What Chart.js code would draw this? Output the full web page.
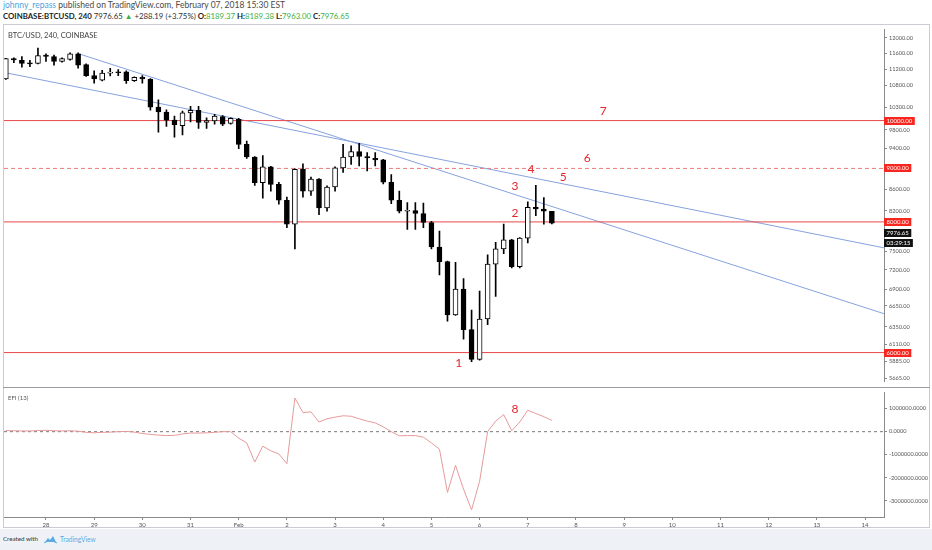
<!DOCTYPE html>
<html>
<head>
<meta charset="utf-8">
<script src="https://cdn.jsdelivr.net/npm/chart.js@4.4.0/dist/chart.umd.min.js"></script>
<style>
  html, body { margin: 0; padding: 0; background: #fff; }
  body { width: 932px; height: 550px; position: relative; overflow: hidden; font-family: Lato, "Open Sans", sans-serif; }
  #hdr1 { position: absolute; left: 3px; top: 0px; font-size: 8.5px; color: #4a4a4a; white-space: nowrap; }
  #hdr1 .user { color: #4fa3e0; }
  #hdr2 { position: absolute; left: 3px; top: 11px; font-size: 7.8px; color: #333; white-space: nowrap; }
  #hdr2 b { color: #222; }
  #hdr2 .g { color: #3cb043; }
  #frame { position: absolute; left: 3px; top: 24px; width: 927px; height: 504px; border: 1px solid #c9ccd2; box-sizing: border-box; }
  #sep { position: absolute; left: 3px; top: 387px; width: 927px; height: 0; border-top: 1px solid #9a9ca2; }
  #cA { position: absolute; left: 4px; top: 24px; }
  #cB { position: absolute; left: 4px; top: 387px; }
  #titleA { position: absolute; left: 8px; top: 31px; font-size: 7.5px; color: #444; }
  #titleB { position: absolute; left: 8px; top: 394px; font-size: 6px; color: #555; }
  #foot { position: absolute; left: 0; top: 529px; width: 932px; height: 21px; background: #eef2f7; }
  #foot .t1 { position: absolute; left: 3px; top: 6px; font-size: 6.2px; color: #333; }
  #foot .t2 { position: absolute; left: 60px; top: 6px; font-size: 6.6px; color: #5aaae4; }
  #foot svg { position: absolute; left: 44px; top: 5px; }
</style>
</head>
<body>
<div id="hdr1"><span class="user">johnny_repass</span> published on TradingView.com, February 07, 2018 15:30 EST</div>
<div id="hdr2"><b>COINBASE:BTCUSD, 240</b> 7976.65 <span class="g">▲</span> +288.19 (+3.75%) <b>O:</b><span class="g">8189.37</span> <b>H:</b><span class="g">8189.38</span> <b>L:</b><span class="g">7963.00</span> <b>C:</b><span class="g">7976.65</span></div>
<div id="frame"></div>
<canvas id="cA" width="925" height="363"></canvas>
<canvas id="cB" width="925" height="143"></canvas>
<div id="sep"></div>
<div id="titleA">BTC/USD, 240, COINBASE</div>
<div id="titleB">EFI (13)</div>
<div id="foot">
  <span class="t1">Created with</span>
  <svg width="13" height="10" viewBox="0 0 13 10"><path d="M1 8 L4 4 L6 6 L9 2 L12 8 Z" fill="#5aaae4"/><path d="M0 9 Q6 5 13 9" stroke="#5aaae4" fill="none"/></svg>
  <span class="t2">TradingView</span>
</div>
<script>
// 4h bars, index 0 = Jan 27 00:00
const dayLabels = ['28', '29', '30', '31', 'Feb', '2', '3', '4', '5', '6', '7', '8', '9', '10', '11', '12', '13', '14'];
const dayTicks = [6, 12, 18, 24, 30, 36, 42, 48, 54, 60, 66, 72, 78, 84, 90, 96, 102, 108];
const firstBar = 1;

const opens = [10960, 11460, 11420, 11350, 11340, 11550, 11510, 11390, 11440, 11580,
  11310, 11040, 10930, 11100, 11120, 11130, 10920, 11000, 10950, 10300,
  10190, 10010, 9890, 10170, 10230, 9960, 9990, 10090, 9935, 10030,
  9490, 9230, 8720, 9030, 8690, 8390, 7960, 8980, 8560, 8790,
  8250, 8640, 9010, 9230, 9340, 9240, 9200, 9170, 8730, 8390,
  8190, 8200, 8150, 7990, 7570, 7330, 6520, 6900, 6310, 5910,
  6460, 7290, 7540, 7690, 7250, 7720, 8260, 8230, 8189.37];
const highs = [11470, 11480, 11510, 11420, 11730, 11580, 11550, 11480, 11610, 11610,
  11330, 11160, 11170, 11220, 11190, 11160, 11010, 11040, 10970, 10470,
  10240, 10100, 10210, 10320, 10320, 10060, 10140, 10110, 10060, 10050,
  9560, 9240, 9260, 9040, 8730, 8450, 8990, 9090, 8830, 8800,
  8660, 9030, 9490, 9460, 9510, 9320, 9320, 9180, 8880, 8560,
  8350, 8350, 8340, 8010, 7840, 7340, 7320, 7060, 6590, 6870,
  7440, 7650, 7960, 7700, 7730, 8360, 8670, 8440, 8189.38];
const lows = [10950, 11360, 11250, 11260, 11330, 11390, 11300, 11370, 11420, 11220,
  11020, 10860, 10910, 11030, 11040, 10850, 10900, 10860, 10230, 9750,
  9870, 9640, 9690, 9970, 9830, 9830, 9920, 9890, 9920, 9400,
  9200, 8670, 8430, 8560, 8320, 7900, 7540, 8450, 8480, 8130,
  8190, 8560, 8920, 9080, 9050, 8950, 9050, 8700, 8330, 8160,
  7870, 7870, 7900, 7540, 7120, 6430, 6510, 6180, 5880, 5900,
  6380, 6790, 7460, 7230, 7230, 7640, 8110, 7960, 7963.00];
const closes = [11460, 11430, 11340, 11330, 11540, 11520, 11390, 11460, 11580, 11300,
  11040, 10960, 11100, 11120, 11110, 10920, 11000, 10960, 10300, 10190,
  10010, 9910, 10170, 10230, 9960, 10000, 10100, 9920, 10050, 9490,
  9230, 8720, 9030, 8690, 8390, 7960, 8980, 8560, 8790, 8250,
  8640, 9010, 9230, 9340, 9240, 9210, 9170, 8730, 8390, 8190,
  8200, 8150, 7990, 7570, 7330, 6520, 6900, 6310, 5910, 6460,
  7290, 7540, 7690, 7250, 7720, 8260, 8230, 8190, 7976.65];

const efi = [50000, 40000, 30000, 30000, 50000, 60000, 40000, 30000, 40000, 20000,
  -30000, -50000, -30000, -20000, 0, 10000, -20000, -80000, -120000, -150000,
  -170000, -160000, -100000, -60000, -60000, -50000, -30000, 0, 0, -280000,
  -490000, -1320000, -630000, -830000, -970000, -1390000, 1460000, 830000, 860000, 420000,
  560000, 630000, 690000, 670000, 560000, 460000, 380000, 210000, 0, -180000,
  -170000, -170000, -240000, -490000, -760000, -2640000, -1460000, -2500000, -3400000, -2150000,
  0, 460000, 740000, 40000, 420000, 930000, 790000, 650000, 490000];

const priceTicks = [12000, 11600, 11200, 10800, 10300, 9800, 9400, 8600, 8200, 7500, 7200, 6900, 6650, 6350, 6110, 5885, 5665];
const efiTicks = [1000000, 0, -1000000, -2000000, -3000000];

const levels = [10000, 9000, 8000, 6000];
const levelDashed = [false, true, false, false];
const lastPrice = 7976.65;
const countdown = '03:29:15';

const trendUpper = [{x: 10.0, y: 11590}, {x: 110.36, y: 6536}];
const trendLower = [{x: 0.772, y: 11118}, {x: 110.36, y: 7556}];

const noteText = ['1', '2', '3', '4', '5', '6', '7'];
const noteX = [57.4, 64.4, 64.4, 66.4, 70.4, 73.4, 75.4];
const noteY = [5861, 8163, 8648, 8987, 8835, 9200, 10216];
const efiNoteText = ['8'];
const efiNoteX = [64.4];
const efiNoteY = [960000];

const xMin = 0.772, xMax = 110.36;
const AXIS_W = 45;
const RED = '#e8484a';
const BOX_RED = '#f7261e';
const NOTE_RED = '#e3262b';
const TXT = '#555';
const FONT = 'Lato, "Open Sans", sans-serif';

Chart.defaults.animation = false;
Chart.defaults.font.family = FONT;

const bars = opens.map((o, k) => firstBar + k);

const bodyData = bars.map((x, k) => ({x: x, y: [opens[k], closes[k]]}));
const wickData = bars.map((x, k) => ({x: x, y: [lows[k], highs[k]]}));
const isUp = k => closes[k] >= opens[k];

const levelSets = levels.map((lv, k) => ({
  type: 'line',
  data: [{x: xMin, y: lv}, {x: xMax, y: lv}],
  borderColor: levelDashed[k] ? '#ee7b7b' : RED,
  borderWidth: 1,
  borderDash: levelDashed[k] ? [4, 3] : [],
  pointRadius: 0,
  order: 3
}));

const notesPlugin = {
  id: 'notes',
  afterDatasetsDraw(chart, args, opts) {
    const {ctx, scales} = chart;
    ctx.save();
    ctx.fillStyle = NOTE_RED;
    ctx.font = '12px ' + FONT;
    ctx.textAlign = 'center';
    ctx.textBaseline = 'middle';
    opts.text.forEach((t, k) => {
      ctx.fillText(t, scales.x.getPixelForValue(opts.xs[k]), scales.y.getPixelForValue(opts.ys[k]));
    });
    ctx.restore();
  }
};

function axisBox(ctx, x, y, text, bg) {
  ctx.font = '6px ' + FONT;
  const w = ctx.measureText(text).width + 5;
  ctx.fillStyle = bg;
  ctx.fillRect(x, Math.round(y) - 4, w, 8);
  ctx.fillStyle = '#fff';
  ctx.textBaseline = 'middle';
  ctx.textAlign = 'left';
  ctx.fillText(text, x + 2.5, Math.round(y));
}

const boxesPlugin = {
  id: 'boxes',
  afterDraw(chart) {
    const {ctx, scales, chartArea} = chart;
    ctx.save();
    levels.forEach(lv => axisBox(ctx, chartArea.right, scales.y.getPixelForValue(lv), lv.toFixed(2), BOX_RED));
    const yl = scales.y.getPixelForValue(lastPrice);
    axisBox(ctx, chartArea.right, yl + 10, lastPrice.toFixed(2), '#111');
    axisBox(ctx, chartArea.right, yl + 20, countdown, '#111');
    ctx.restore();
  }
};

new Chart(document.getElementById('cA'), {
  type: 'bar',
  data: {
    datasets: [
      {
        data: bodyData,
        grouped: false,
        barThickness: 5,
        minBarLength: 1,
        borderWidth: 1,
        borderSkipped: false,
        borderColor: '#000',
        backgroundColor: c => isUp(c.dataIndex) ? '#fff' : '#000',
        order: 1
      },
      {
        data: wickData,
        grouped: false,
        barThickness: 1,
        borderWidth: 0,
        backgroundColor: '#000',
        order: 2
      },
      ...levelSets,
      {type: 'line', data: trendUpper, borderColor: '#86a2df', borderWidth: 1, pointRadius: 0, order: 3},
      {type: 'line', data: trendLower, borderColor: '#86a2df', borderWidth: 1, pointRadius: 0, order: 3}
    ]
  },
  options: {
    responsive: false,
    layout: {padding: 0},
    events: [],
    plugins: {
      legend: {display: false},
      tooltip: {enabled: false},
      notes: {text: noteText, xs: noteX, ys: noteY}
    },
    scales: {
      x: {type: 'linear', min: xMin, max: xMax, offset: false, display: false},
      y: {
        type: 'logarithmic', position: 'right', min: 5628, max: 12224, beginAtZero: false,
        afterBuildTicks: s => { s.ticks = priceTicks.map(v => ({value: v})); },
        afterFit: s => { s.width = AXIS_W; },
        ticks: {callback: v => Number(v).toFixed(2), font: {size: 5.6}, color: TXT, padding: 2, autoSkip: false},
        grid: {drawOnChartArea: false, tickLength: 3, color: '#8a8a8a'},
        border: {color: '#8a8a8a'}
      }
    }
  },
  plugins: [notesPlugin, boxesPlugin]
});

new Chart(document.getElementById('cB'), {
  type: 'line',
  data: {
    datasets: [
      {data: bars.map((x, k) => ({x: x, y: efi[k]})), borderColor: '#e79a9a', borderWidth: 1, pointRadius: 0, tension: 0},
      {data: [{x: xMin, y: 0}, {x: xMax, y: 0}], borderColor: '#7a7a7a', borderWidth: 1, borderDash: [3, 3], pointRadius: 0}
    ]
  },
  options: {
    responsive: false,
    layout: {padding: 0},
    events: [],
    plugins: {
      legend: {display: false},
      tooltip: {enabled: false},
      notes: {text: efiNoteText, xs: efiNoteX, ys: efiNoteY}
    },
    scales: {
      x: {
        type: 'linear', min: xMin, max: xMax, offset: false,
        afterBuildTicks: s => { s.ticks = dayTicks.map(v => ({value: v})); },
        afterFit: s => { s.height = 13; },
        ticks: {callback: (v, i) => dayLabels[i], font: {size: 6}, color: TXT, padding: 1, autoSkip: false, maxRotation: 0},
        grid: {drawOnChartArea: false, tickLength: 3, color: '#8a8a8a'},
        border: {color: '#8a8a8a'}
      },
      y: {
        type: 'linear', position: 'right', min: -3708000, max: 1708000,
        afterBuildTicks: s => { s.ticks = efiTicks.map(v => ({value: v})); },
        afterFit: s => { s.width = AXIS_W; },
        ticks: {callback: v => Number(v).toFixed(4), font: {size: 5.6}, color: TXT, padding: 2, autoSkip: false},
        grid: {drawOnChartArea: false, tickLength: 3, color: '#8a8a8a'},
        border: {color: '#8a8a8a'}
      }
    }
  },
  plugins: [notesPlugin]
});
</script>
</body>
</html>
